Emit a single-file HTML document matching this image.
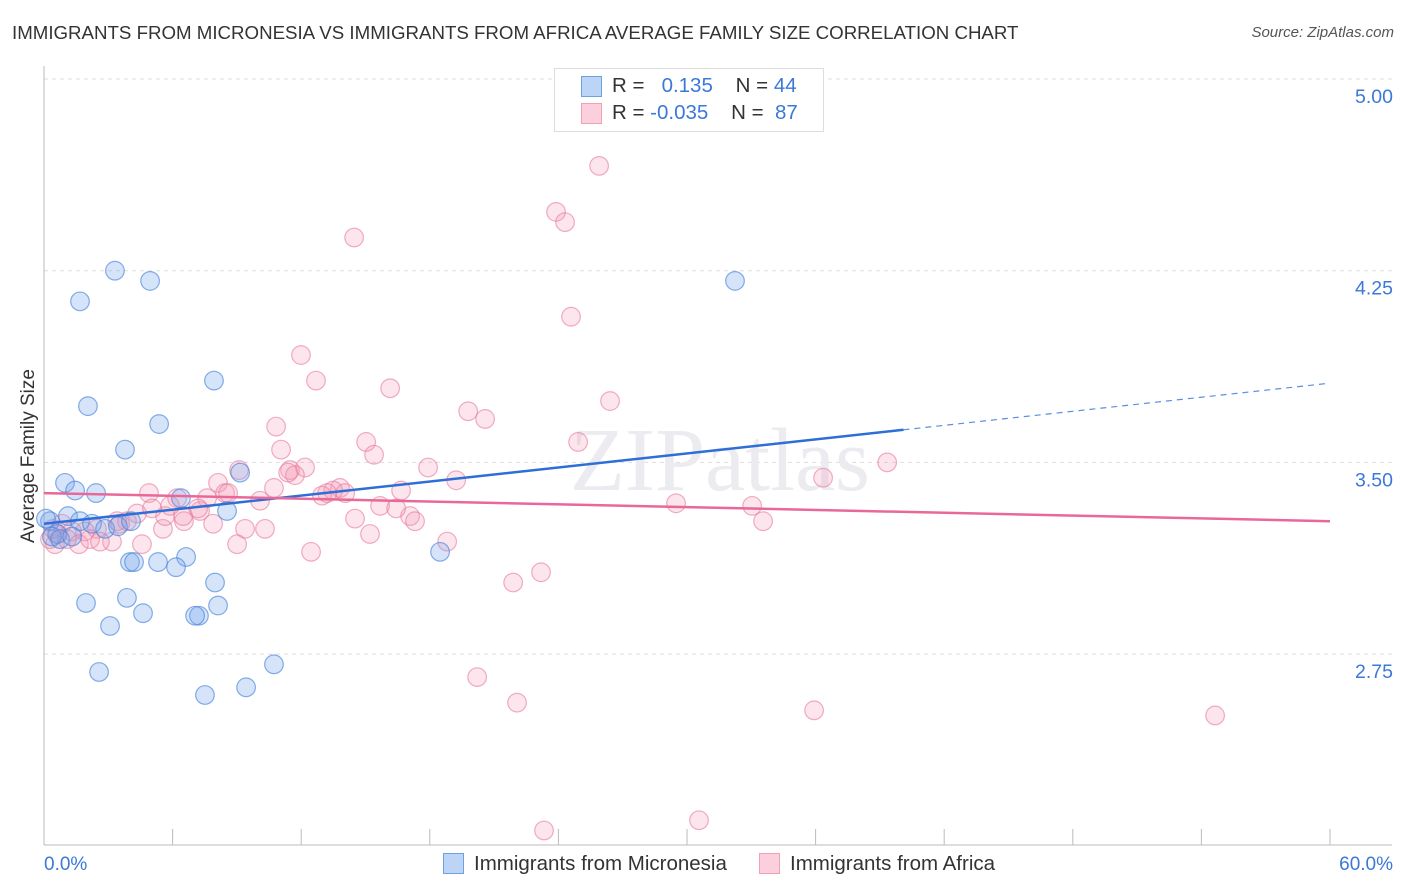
<!DOCTYPE html>
<html><head><meta charset="utf-8"><style>
body{margin:0;background:#fff;font-family:"Liberation Sans",sans-serif;}
#wrap{position:relative;width:1406px;height:892px;overflow:hidden;}
.t{position:absolute;white-space:nowrap;}
</style></head><body>
<div id="wrap">
<div class="t" style="left:12px;top:22px;font-size:18.7px;color:#333;">IMMIGRANTS FROM MICRONESIA VS IMMIGRANTS FROM AFRICA AVERAGE FAMILY SIZE CORRELATION CHART</div>
<div class="t" style="right:12px;top:24px;font-size:15px;color:#555;font-style:italic;">Source: ZipAtlas.com</div>
<svg id="svg" width="1406" height="892" style="position:absolute;left:0;top:0"></svg>
</div>
<script>
const yTicks=[5.00,4.25,3.50,2.75];
const xLabels=["0.0%","60.0%"];
const blueX=[3.31,4.95,1.68,32.24,7.93,2.05,5.37,3.78,0.98,2.43,1.45,9.15,6.39,8.54,1.12,1.68,0.28,0.61,0.37,0.75,1.31,2.24,2.85,3.45,4.06,6.63,5.32,4.01,4.20,6.16,7.98,18.48,3.87,1.96,4.62,8.12,7.23,7.05,3.08,10.73,2.57,9.43,7.51,0.09];
const blueY=[4.25,4.21,4.13,4.21,3.82,3.72,3.65,3.55,3.42,3.38,3.39,3.46,3.36,3.31,3.29,3.27,3.27,3.22,3.21,3.20,3.21,3.26,3.24,3.25,3.27,3.13,3.11,3.11,3.11,3.09,3.03,3.15,2.97,2.95,2.91,2.94,2.90,2.90,2.86,2.71,2.68,2.62,2.59,3.28];
const pinkX=[25.90,23.89,24.31,14.47,24.59,11.99,12.69,16.15,26.41,19.79,20.58,10.83,15.03,11.06,15.40,24.92,39.34,17.92,11.48,12.18,11.71,19.23,9.10,8.12,8.45,7.61,10.73,36.35,13.81,13.49,13.21,12.97,14.05,16.66,8.59,4.90,6.21,10.08,15.68,29.49,33.04,7.28,14.51,17.08,16.43,17.31,33.55,15.21,18.81,10.31,9.38,9.01,7.89,6.53,5.55,4.34,3.87,3.41,2.47,1.91,1.31,0.65,0.51,0.28,1.63,3.17,4.57,6.49,5.04,12.46,21.89,23.19,20.21,22.07,35.93,54.64,23.33,30.56,5.65,7.19,5.88,0.84,2.15,0.42,3.55,2.61,1.07,11.39];
const pinkY=[4.66,4.48,4.44,4.38,4.07,3.92,3.82,3.79,3.74,3.70,3.67,3.64,3.58,3.55,3.53,3.58,3.50,3.48,3.47,3.48,3.45,3.43,3.47,3.42,3.38,3.36,3.40,3.44,3.40,3.39,3.38,3.37,3.38,3.39,3.38,3.38,3.36,3.35,3.33,3.34,3.33,3.31,3.28,3.29,3.32,3.27,3.27,3.22,3.19,3.24,3.24,3.18,3.26,3.27,3.24,3.30,3.27,3.27,3.24,3.23,3.23,3.22,3.18,3.20,3.18,3.19,3.18,3.29,3.32,3.15,3.03,3.07,2.66,2.56,2.53,2.51,2.06,2.10,3.29,3.32,3.33,3.26,3.20,3.24,3.26,3.19,3.20,3.46];
const blueTrend=[3.26,3.81]; // at 0% and 60%
const pinkTrend=[3.38,3.27];
const blueSolidEnd=40.1;

const X0=44,X1=1330;
const sx=v=>X0+(v/60)*(X1-X0);
const sy=v=>79+(5-v)/0.75*191.7;
const svg=document.getElementById('svg');
const NS='http://www.w3.org/2000/svg';
function mk(tag,attrs){const e=document.createElementNS(NS,tag);for(const k in attrs)e.setAttribute(k,attrs[k]);svg.appendChild(e);return e;}

yTicks.forEach(t=>{
  const g=mk('line',{x1:X0,x2:1392,y1:sy(t),y2:sy(t),stroke:'#ddd','stroke-dasharray':'4,4'});
  
  
  const l=mk('text',{x:1393,y:sy(t)+24,'text-anchor':'end','font-size':19.5,fill:'#3b78d8','font-family':'Liberation Sans'});
  l.textContent=t.toFixed(2);
  
  
});
let ax=mk('line',{x1:X0,x2:X0,y1:66,y2:845,stroke:'#bbb'});


ax=mk('line',{x1:X0,x2:1392,y1:845,y2:845,stroke:'#bbb'});


for(let i=0;i<=10;i++){
  const tk=mk('line',{x1:sx(i*6),x2:sx(i*6),y1:829,y2:845,stroke:'#bbb'});
  
  
}
xLabels.forEach((s,i)=>{
  const l=mk('text',{x:i?1393:44,y:870,'text-anchor':i?'end':'start','font-size':19,fill:'#3b78d8','font-family':'Liberation Sans'});
  l.textContent=s;
  
  
});
const yt=mk('text',{x:34,y:456,'text-anchor':'middle','font-size':19,fill:'#333',transform:'rotate(-90 34 456)','font-family':'Liberation Sans'});
yt.textContent='Average Family Size';


const wm=mk('text',{x:720,y:490,'text-anchor':'middle','font-size':90,fill:'#ebebf0','font-family':'Liberation Serif'});
wm.textContent='ZIPatlas';



pinkX.forEach((x,i)=>{
  const c=mk('circle',{cx:sx(x),cy:sy(pinkY[i]),r:9.3,fill:'rgba(244,150,180,0.25)',stroke:'rgba(232,120,155,0.6)','stroke-width':1.2});
  
  
});
blueX.forEach((x,i)=>{
  const c=mk('circle',{cx:sx(x),cy:sy(blueY[i]),r:9.3,fill:'rgba(120,165,235,0.3)',stroke:'rgba(70,130,220,0.65)','stroke-width':1.2});
  
  
});
const by=x=>blueTrend[0]+(blueTrend[1]-blueTrend[0])*x/60;
let ln=mk('line',{x1:sx(0),y1:sy(by(0)),x2:sx(blueSolidEnd),y2:sy(by(blueSolidEnd)),stroke:'#2d6fd6','stroke-width':2.5});


ln=mk('line',{x1:sx(blueSolidEnd),y1:sy(by(blueSolidEnd)),x2:sx(60),y2:sy(by(60)),stroke:'#5a8ee0','stroke-width':1.2,'stroke-dasharray':'6,5'});


ln=mk('line',{x1:sx(0),y1:sy(pinkTrend[0]),x2:sx(60),y2:sy(pinkTrend[1]),stroke:'#e8689a','stroke-width':2.5});


</script>
<div class="t" style="left:554px;top:68px;width:268px;height:62px;border:1px solid #ddd;background:#fff;"></div>
<div class="t" style="left:581px;top:76px;width:19px;height:19px;background:#bcd4f6;border:1px solid #6fa0e0;"></div>
<div class="t" style="left:612px;top:74px;font-size:20.5px;color:#333;">R = &nbsp;&nbsp;<span style="color:#3b78d8">0.135</span>&nbsp;&nbsp;&nbsp; N = <span style="color:#3b78d8">44</span></div>
<div class="t" style="left:581px;top:103px;width:19px;height:19px;background:#fbd0dc;border:1px solid #f0a0b8;"></div>
<div class="t" style="left:612px;top:101px;font-size:20.5px;color:#333;">R = <span style="color:#3b78d8">-0.035</span>&nbsp;&nbsp;&nbsp; N = &nbsp;<span style="color:#3b78d8">87</span></div>
<div class="t" style="left:443px;top:853px;width:19px;height:19px;background:#bcd4f6;border:1px solid #6fa0e0;"></div>
<div class="t" style="left:474px;top:852px;font-size:20.5px;color:#333;">Immigrants from Micronesia</div>
<div class="t" style="left:759px;top:853px;width:19px;height:19px;background:#fbd0dc;border:1px solid #f0a0b8;"></div>
<div class="t" style="left:790px;top:852px;font-size:20.5px;color:#333;">Immigrants from Africa</div>
</body></html>
